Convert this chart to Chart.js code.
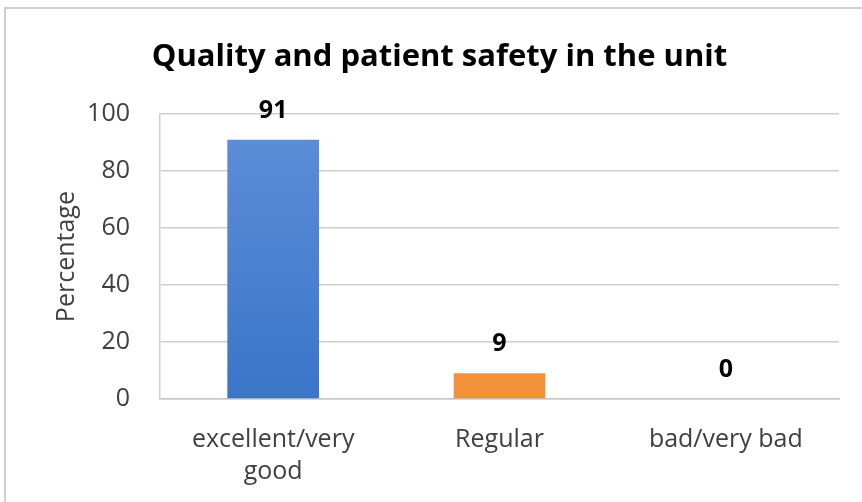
<!DOCTYPE html>
<html>
<head>
<meta charset="utf-8">
<script src="https://cdn.jsdelivr.net/npm/chart.js@4"></script>
<style>
  html, body { margin: 0; padding: 0; background: #fff; }
  #wrap { width: 862px; height: 502px; }
</style>
</head>
<body>
<div id="wrap"><canvas id="qualityChart" width="862" height="502"></canvas></div>
<script>
const categories = [["excellent/very", "good"], "Regular", "bad/very bad"];
const percentages = [91, 9, 0];
const yTicks = [0, 20, 40, 60, 80, 100];

const FONT = "'Open Sans', sans-serif";
const TEXT = "#404040";

// light frame like the screenshot (only top and left edges visible)
const framePlugin = {
  id: "frame",
  beforeDraw(chart) {
    const ctx = chart.ctx;
    ctx.save();
    ctx.strokeStyle = "#cfcfcf";
    ctx.lineWidth = 2;
    ctx.strokeRect(5, 8, 900, 600);
    ctx.restore();
  },
};

// bold value labels above bars
const valueLabels = {
  id: "valueLabels",
  afterDatasetsDraw(chart) {
    const ctx = chart.ctx;
    const meta = chart.getDatasetMeta(0);
    ctx.save();
    ctx.font = "bold 25px " + FONT;
    ctx.fillStyle = "#000";
    ctx.textAlign = "center";
    ctx.textBaseline = "middle";
    meta.data.forEach((bar, i) => {
      ctx.fillText(percentages[i], bar.x, bar.y - 29);
    });
    ctx.restore();
  },
};

const ctx = document.getElementById("qualityChart").getContext("2d");

function blueGradient(context) {
  const area = context.chart.chartArea;
  if (!area) return "#4a80d2";
  const g = context.chart.ctx.createLinearGradient(0, area.top, 0, area.bottom);
  g.addColorStop(0, "#5f8fd8");
  g.addColorStop(1, "#3a75c8");
  return g;
}

const data = {
  labels: categories,
  datasets: [
    {
      data: percentages,
      backgroundColor: (c) => (c.dataIndex === 0 ? blueGradient(c) : "#f3923a"),
      borderWidth: 0,
      categoryPercentage: 1,
      barPercentage: 0.405,
    },
  ],
};

const config = {
  type: "bar",
  data: data,
  plugins: [framePlugin, valueLabels],
  options: {
    responsive: false,
    animation: false,
    layout: { padding: { left: 40, right: 23, top: 0, bottom: 0 } },
    plugins: {
      legend: { display: false },
      tooltip: { enabled: false },
      title: {
        display: true,
        text: "Quality and patient safety in the unit",
        color: "#000",
        font: { family: FONT, size: 31, weight: "bold", lineHeight: 1.2 },
        padding: { top: 39, bottom: 38 },
      },
    },
    scales: {
      x: {
        grid: { display: false, drawTicks: false },
        border: { color: "#c8c8c8", width: 1.5 },
        ticks: {
          color: TEXT,
          padding: 25,
          maxRotation: 0,
          font: { family: FONT, size: 25, lineHeight: 1.28 },
        },
        afterFit(scale) {
          scale.height = 103;
        },
      },
      y: {
        min: 0,
        max: 100,
        afterBuildTicks(scale) {
          scale.ticks = yTicks.map((v) => ({ value: v }));
        },
        grid: { color: "#cfcfcf", lineWidth: 1.5, drawTicks: false },
        border: { color: "#cfcfcf", width: 1.5 },
        ticks: {
          color: TEXT,
          padding: 30,
          font: { family: FONT, size: 25 },
        },
        title: {
          display: true,
          text: "Percentage",
          color: TEXT,
          font: { family: FONT, size: 25, lineHeight: 1.2 },
          padding: { top: 12, bottom: 0 },
        },
        afterFit(scale) {
          scale.width = 120;
        },
      },
    },
  },
};

let chart = new Chart(ctx, config);
</script>
</body>
</html>
